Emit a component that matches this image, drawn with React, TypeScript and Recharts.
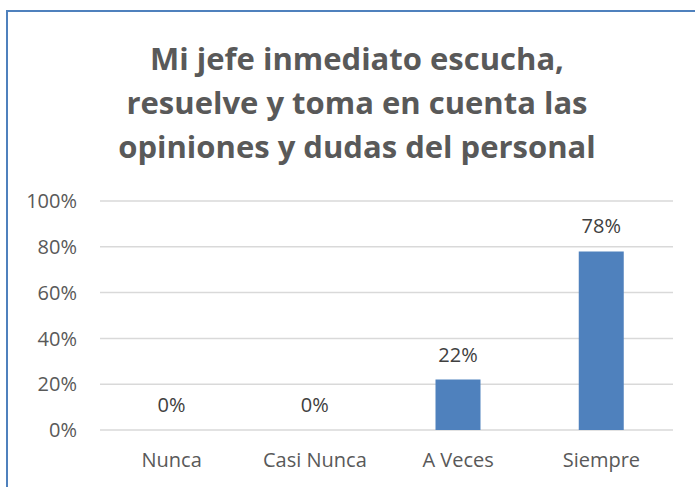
import React from "react";
import { BarChart, Bar, XAxis, YAxis, CartesianGrid, LabelList } from "recharts";

const categories = ["Nunca", "Casi Nunca", "A Veces", "Siempre"];
const values = [0, 0, 0.22, 0.78];
const yTicks = [0, 0.2, 0.4, 0.6, 0.8, 1];
const titleLines = [
  "Mi jefe inmediato escucha,",
  "resuelve y toma en cuenta las",
  "opiniones y dudas del personal",
];

const data = categories.map((c, i) => ({ name: c, value: values[i] }));
const pct = (v: number) => `${Math.round(v * 100)}%`;
const FONT = "'Open Sans', 'Noto Sans', sans-serif";

export default function App() {
  return (
    <div style={{ position: "absolute", left: 0, top: 0, width: 695, height: 487, overflow: "hidden", background: "#fff" }}>
      <div style={{ position: "absolute", left: 0, top: 0 }}>
        <BarChart
          width={695}
          height={487}
          data={data}
          margin={{ top: 201, right: 22, bottom: 0, left: 0 }}
          barSize={45}
        >
          <CartesianGrid vertical={false} stroke="#D9D9D9" strokeWidth={1.5} />
          <XAxis
            dataKey="name"
            height={57}
            axisLine={false}
            tickLine={false}
            tickSize={0}
            tickMargin={23}
            tick={{ fill: "#595959", fontSize: 20, fontFamily: FONT }}
            interval={0}
          />
          <YAxis
            width={100}
            domain={[0, 1]}
            ticks={yTicks}
            tickFormatter={pct}
            axisLine={false}
            tickLine={false}
            tickSize={0}
            tickMargin={23}
            tick={{ fill: "#595959", fontSize: 20, fontFamily: FONT }}
          />
          <Bar dataKey="value" fill="#4F81BD" isAnimationActive={false} minPointSize={0.01}>
            <LabelList
              dataKey="value"
              position="top"
              offset={18}
              formatter={(v: any) => pct(Number(v))}
              style={{ fill: "#404040", fontSize: 20, fontFamily: FONT }}
            />
          </Bar>
        </BarChart>
      </div>
      <div style={{ position: "absolute", left: 6, top: 10, width: 2, height: 477, background: "#4F81BD" }} />
      <div style={{ position: "absolute", left: 6, top: 10, width: 689, height: 2, background: "#4F81BD" }} />
      <svg width={695} height={487} style={{ position: "absolute", left: 0, top: 0, pointerEvents: "none" }}>
        {titleLines.map((t, i) => (
          <text
            key={i}
            x={357}
            y={70 + i * 44}
            textAnchor="middle"
            fill="#595959"
            fontFamily={FONT}
            fontWeight={700}
            fontSize={31}
          >
            {t}
          </text>
        ))}
      </svg>
    </div>
  );
}
